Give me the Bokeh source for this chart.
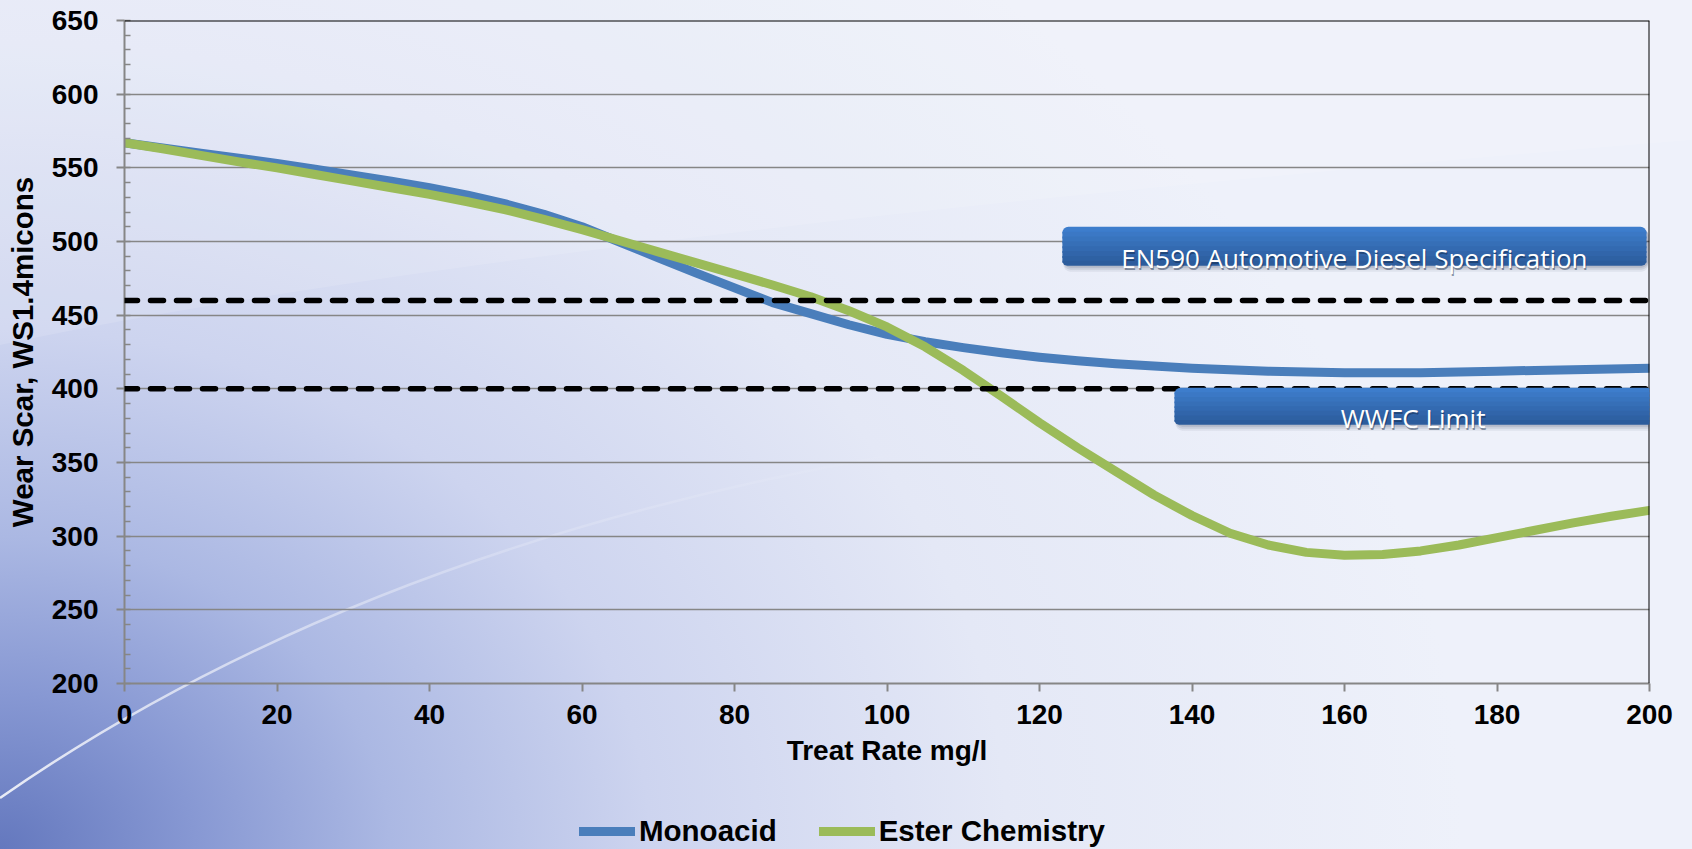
import base64

from bokeh.embed import file_html
from bokeh.layouts import column
from bokeh.models import (BoxAnnotation, Label, Legend, LegendItem, Range1d,
                          SingleIntervalTicker, Span)
from bokeh.plotting import figure
from bokeh.resources import INLINE

# Wear scar vs. treat rate, read every 5 mg/l
treat_rate = [0, 5, 10, 15, 20, 25, 30, 35, 40, 45, 50, 55, 60, 65, 70, 75, 80,
              85, 90, 95, 100, 105, 110, 115, 120, 125, 130, 135, 140, 145, 150,
              155, 160, 165, 170, 175, 180, 185, 190, 195, 200]
monoacid = [567, 563.5, 560, 556.5, 553, 549, 545, 541, 536.5, 531.5, 525.5, 518.5,
            510, 499.5, 489, 478.5, 468.5, 458.5, 451, 443.5, 437, 432, 428,
            424.5, 421.5, 419, 417, 415.5, 414, 413, 412, 411.5, 411, 411, 411,
            411.5, 412, 412.5, 413, 413.5, 414]
ester_chemistry = [567, 563, 558.5, 554, 550, 545.5, 541, 536.5, 532, 527, 521.5,
                   515, 508, 500.5, 493, 485.5, 478, 470.5, 462.5, 453, 442, 428.5,
                   412.5, 395, 377, 360, 344, 328, 314, 302, 294, 289, 287, 287.5,
                   290, 294, 299, 304, 309, 313.5, 317.5]

# Specification limits (microns)
en590_limit = 460
wwfc_limit = 400

series_names = ["Monoacid", "Ester Chemistry"]
spec_labels = ["EN590 Automotive Diesel Specification", "WWFC Limit"]

BLUE = "#4A7EBB"
GREEN = "#9BBB59"
GREY = "#868686"
TICK_FONT = "Liberation Sans"

W, H = 1692, 849
MAIN_H = 800          # chart part; the legend strip takes the rest

# ---------------------------------------------------------------- background
bg_svg = """<svg xmlns='http://www.w3.org/2000/svg' width='1692' height='849' viewBox='0 0 1692 849'>
<defs>
<radialGradient id='g' cx='0' cy='849' r='1300' gradientUnits='userSpaceOnUse'
  gradientTransform='translate(0 849) scale(1.25 1) translate(0 -849)'>
<stop offset='0' stop-color='#6478BE'/>
<stop offset='0.12' stop-color='#8798D3'/>
<stop offset='0.24' stop-color='#ABB8E3'/>
<stop offset='0.4' stop-color='#CDD4EF'/>
<stop offset='0.62' stop-color='#E4E8F6'/>
<stop offset='0.9' stop-color='#EEF1FA'/>
</radialGradient>
<linearGradient id='s' x1='0' y1='0' x2='1692' y2='0' gradientUnits='userSpaceOnUse'>
<stop offset='0' stop-color='#ffffff' stop-opacity='0.85'/>
<stop offset='0.12' stop-color='#ffffff' stop-opacity='0.6'/>
<stop offset='0.3' stop-color='#ffffff' stop-opacity='0.2'/>
<stop offset='0.55' stop-color='#ffffff' stop-opacity='0'/>
</linearGradient>
</defs>
<rect width='1692' height='849' fill='url(#g)'/>
<path d='M0,345 Q520,235 1692,140 L1692,0 L0,0 Z' fill='#ffffff' fill-opacity='0.12'/>
<path d='M0,798 Q600,380 1692,400' fill='none' stroke='url(#s)' stroke-width='2.5'/>
</svg>"""
bg_uri = "data:image/svg+xml;base64," + base64.b64encode(bg_svg.encode()).decode()


def backdrop(fig, offset_y):
    fig.styles = {
        "background-image": f"url({bg_uri})",
        "background-size": f"{W}px {H}px",
        "background-position": f"0px {-offset_y}px",
        "background-repeat": "no-repeat",
    }
    fig.background_fill_alpha = 0
    fig.border_fill_alpha = 0
    fig.outline_line_color = None


# ---------------------------------------------------------------- chart
p = figure(
    width=W, height=MAIN_H,
    x_range=Range1d(0, 200), y_range=Range1d(200, 650),
    output_backend="svg", toolbar_location=None,
    min_border_left=124, min_border_right=43,
    min_border_top=20, min_border_bottom=MAIN_H - 683,
)
backdrop(p, 0)

p.xaxis.ticker = SingleIntervalTicker(interval=20, num_minor_ticks=0)
p.yaxis.ticker = SingleIntervalTicker(interval=50, num_minor_ticks=5)
for ax in (p.xaxis[0], p.yaxis[0]):
    ax.axis_line_color = GREY
    ax.axis_line_width = 2
    ax.major_tick_line_color = GREY
    ax.major_tick_line_width = 2
    ax.major_tick_in = 0
    ax.major_tick_out = 8
    ax.major_label_text_font = TICK_FONT
    ax.major_label_text_font_style = "bold"
    ax.major_label_text_font_size = "28px"
    ax.major_label_text_color = "black"
    ax.axis_label_text_font = TICK_FONT
    ax.axis_label_text_font_style = "bold"
    ax.axis_label_text_color = "black"
p.xaxis.axis_label_text_font_size = "28px"
p.yaxis.axis_label_text_font_size = "29.5px"
p.xaxis.minor_tick_line_color = None
p.yaxis.minor_tick_line_color = GREY
p.yaxis.minor_tick_line_width = 1.5
p.yaxis.minor_tick_in = 6
p.yaxis.minor_tick_out = 0
p.xaxis.major_label_standoff = 13
p.yaxis.major_label_standoff = 18
p.xaxis.axis_label = "Treat Rate mg/l"
p.yaxis.axis_label = "Wear Scar, WS1.4micons"
p.xaxis.axis_label_standoff = 8
p.yaxis.axis_label_standoff = 10

p.xgrid.grid_line_color = None
p.ygrid.grid_line_color = GREY
p.ygrid.grid_line_width = 1.5

line_style = dict(line_width=9, line_cap="round", line_join="round")
p.line(treat_rate, monoacid, line_color=BLUE, **line_style)
p.line(treat_rate, ester_chemistry, line_color=GREEN, **line_style)

# limit lines
for lim in (en590_limit, wwfc_limit):
    p.add_layout(Span(location=lim, dimension="width", line_color="black",
                      line_width=5.5, line_dash="13 13", line_cap="round"))

# chart border on the top and right
p.add_layout(Span(location=650, dimension="width", line_color="black", line_width=2))
p.add_layout(Span(location=200, dimension="height", line_color="black", line_width=2))

# ---------------------------------------------------------------- callout boxes
PX_X = 200 / 1525   # data units per pixel
PX_Y = 450 / 663


def callout(left, right, bottom, top, text, tx, ty):
    # soft shadow
    for k, a in ((6, 0.07), (4, 0.10), (2, 0.12)):
        p.add_layout(BoxAnnotation(left=left + 1 * PX_X, right=right + 2 * PX_X,
                                   bottom=bottom - k * PX_Y, top=top - 2 * PX_Y,
                                   fill_color="#1a2a48", fill_alpha=a, line_color=None,
                                   border_radius=7))
    # vertical blue gradient in bands
    n = 8
    c0 = (61, 125, 204)
    c1 = (44, 92, 156)
    h = (top - bottom) / n
    for i in range(n):
        t = i / (n - 1)
        col = "#%02x%02x%02x" % tuple(round(c0[j] + (c1[j] - c0[j]) * t) for j in range(3))
        b_top = top - i * h
        b_bot = b_top - h - (0 if i == n - 1 else 0.4 * h)
        if i == 0:
            rad = (6, 6, 0, 0)
        elif i == n - 1:
            rad = (0, 0, 6, 6)
        else:
            rad = 0
        p.add_layout(BoxAnnotation(left=left, right=right, bottom=b_bot, top=b_top,
                                   fill_color=col, fill_alpha=1, line_color=None,
                                   border_radius=rad))
    # label with a faint drop shadow
    p.add_layout(Label(x=tx + 1 * PX_X, y=ty - 1.5 * PX_Y, text=text, text_font="Open Sans",
                       text_font_size="26px", text_color="#0f2340", text_alpha=0.45,
                       text_align="center", text_baseline="alphabetic"))
    p.add_layout(Label(x=tx, y=ty, text=text, text_font="Open Sans",
                       text_font_size="26px", text_color="white",
                       text_align="center", text_baseline="alphabetic"))


callout(123.0, 199.6, 483.6, 510.0, spec_labels[0], 161.3, 484.0 + 7 * PX_Y)
callout(137.7, 200.4, 375.7, 400.8, spec_labels[1], 169.0, 375.2 + 7 * PX_Y)

# ---------------------------------------------------------------- legend strip
q = figure(
    width=W, height=H - MAIN_H,
    x_range=Range1d(0, 1), y_range=Range1d(0, 1),
    output_backend="svg", toolbar_location=None,
    x_axis_location=None, y_axis_location=None,
    min_border=0,
)
backdrop(q, MAIN_H)
q.grid.visible = False
# stand-in renderers (outside the visible range) that carry the legend styling
r_mono = q.line([-2, -1], [-2, -1], line_color=BLUE, **line_style)
r_ester = q.line([-2, -1], [-2, -1], line_color=GREEN, **line_style)

legend = Legend(
    items=[LegendItem(label=series_names[0], renderers=[r_mono]),
           LegendItem(label=series_names[1], renderers=[r_ester])],
    orientation="horizontal", location=(455, 1),
    label_text_font=TICK_FONT, label_text_font_style="bold",
    label_text_font_size="29.5px", label_text_color="black",
    glyph_width=56, glyph_height=32, label_standoff=4, spacing=42,
    padding=0, margin=0, background_fill_alpha=0, border_line_color=None,
)
q.add_layout(legend)

page = column(p, q, spacing=0)
open("out.html", "w").write(file_html(page, INLINE))
